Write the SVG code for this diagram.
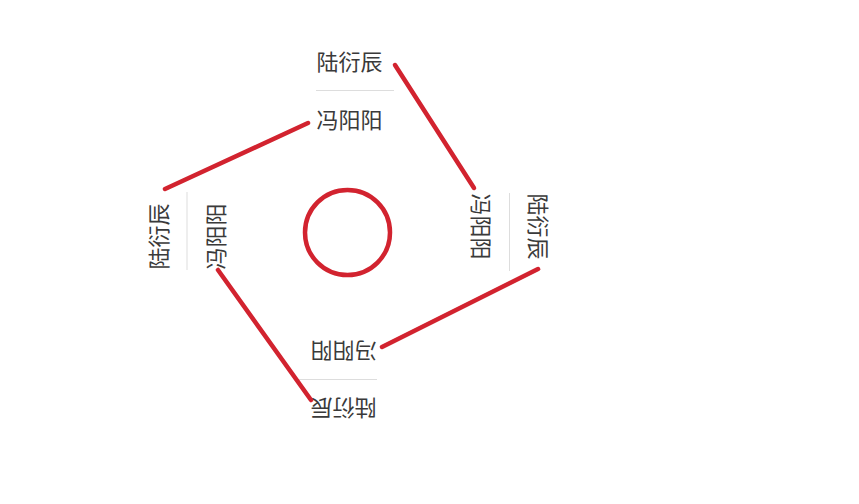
<svg xmlns="http://www.w3.org/2000/svg" width="859" height="504" viewBox="0 0 859 504">
  <style>
    .name { font-family: "Noto Sans CJK SC", "Noto Sans", sans-serif; font-size: 22px; fill: #3a3a3a; }
    .sep { stroke: #dddddd; stroke-width: 1; }
    .link { stroke: #d2232f; stroke-width: 4.5; stroke-linecap: round; fill: none; }
    .ring { stroke: #d2232f; stroke-width: 4.5; fill: none; }
  </style>
  <rect x="0" y="0" width="859" height="504" fill="#ffffff"/>
  <g id="center">
    <circle class="ring" cx="347.5" cy="232.5" r="42.5"/>
  </g>
  <g id="cluster-top" transform="translate(316,90)">
    <g id="top-luyanchen"><text class="name" x="0.5" y="-20">陆衍辰</text></g>
    <line class="sep" x1="0" y1="0.5" x2="78" y2="0.5"/>
    <g id="top-fengyangyang"><text class="name" x="0.5" y="37.5">冯阳阳</text></g>
  </g>
  <g id="cluster-right" transform="translate(510,193) rotate(90)">
    <g id="right-luyanchen"><text class="name" x="0.5" y="-20">陆衍辰</text></g>
    <line class="sep" x1="0" y1="0.5" x2="78" y2="0.5"/>
    <g id="right-fengyangyang"><text class="name" x="0.5" y="37.5">冯阳阳</text></g>
  </g>
  <g id="cluster-bottom" transform="translate(377,380) rotate(180)">
    <g id="bottom-luyanchen"><text class="name" x="0.5" y="-20">陆衍辰</text></g>
    <line class="sep" x1="0" y1="0.5" x2="78" y2="0.5"/>
    <g id="bottom-fengyangyang"><text class="name" x="0.5" y="37.5">冯阳阳</text></g>
  </g>
  <g id="cluster-left" transform="translate(186.5,270) rotate(-90)">
    <g id="left-luyanchen"><text class="name" x="0.5" y="-20">陆衍辰</text></g>
    <line class="sep" x1="0" y1="0.5" x2="78" y2="0.5"/>
    <g id="left-fengyangyang"><text class="name" x="0.5" y="37.5">冯阳阳</text></g>
  </g>
  <g id="connectors">
    <line class="link" x1="395" y1="65" x2="474" y2="188"/>
    <line class="link" x1="165" y1="189" x2="308" y2="123"/>
    <line class="link" x1="538" y1="269" x2="382" y2="347"/>
    <line class="link" x1="218" y1="270" x2="311" y2="400"/>
  </g>
</svg>
